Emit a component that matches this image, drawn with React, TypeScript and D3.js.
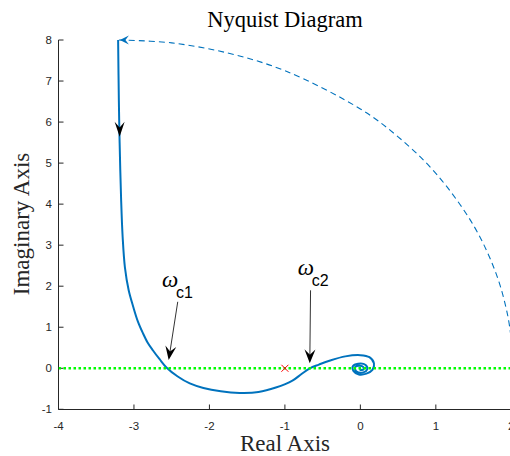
import React from "react";
import * as d3 from "d3";

// ---- data ----
const xTicks = [-4, -3, -2, -1, 0, 1, 2];
const yTicks = [-1, 0, 1, 2, 3, 4, 5, 6, 7, 8];

// Nyquist curve (positive frequencies)
const nyqRe = [
  -3.21, -3.2, -3.19, -3.17, -3.15, -3.12, -3.07, -3.01, -2.95, -2.88, -2.82, -2.75,
  -2.66, -2.57, -2.42, -2.26, -2.08, -1.85, -1.6, -1.35, -1.12, -0.9, -0.78, -0.67,
  -0.55, -0.4, -0.2, 0.0, 0.12, 0.18, 0.16, 0.08, -0.02, -0.09, -0.1, -0.03, 0.07,
  0.09, 0.04, -0.05, -0.07, -0.02, 0.04, 0.04, 0.0, 0.0,
];
const nyqIm = [
  8.0, 6.5, 5.5, 4.1, 3.2, 2.46, 1.9, 1.5, 1.15, 0.85, 0.63, 0.44,
  0.22, 0.02, -0.2, -0.37, -0.48, -0.56, -0.6, -0.58, -0.47, -0.3, -0.14, 0.0,
  0.09, 0.19, 0.29, 0.32, 0.27, 0.12, -0.04, -0.13, -0.15, -0.07, 0.05, 0.11, 0.08,
  -0.03, -0.1, -0.08, 0.02, 0.06, 0.03, -0.03, -0.04, 0.0,
];

// dashed closing arc (infinite-radius contour)
const arcRe = [-3.2, -2.5, -1.73, -1.0, 0.0, 0.5, 1.0, 1.5, 1.8, 1.95, 2.0];
const arcIm = [8.0, 7.93, 7.67, 7.25, 6.32, 5.64, 4.75, 3.48, 2.3, 1.31, 0.7];

// critical point
const critical = [-1, 0];

// annotations: label, arrow start, arrow tip (data coords)
const annLabels = ["c1", "c2"];
const annFrom = [
  [-2.42, 1.62],
  [-0.66, 1.9],
];
const annTo = [
  [-2.54, 0.2],
  [-0.67, 0.12],
];
const annTextPos = [
  [-2.63, 1.98],
  [-0.83, 2.27],
];

// direction arrow on the curve
const dirArrowTip = [-3.19, 5.64];

const W = 510;
const H = 456;
const blue = "#0072BD";
const axisCol = "#262626";

const x = d3.scaleLinear().domain([-4, 2]).range([58.5, 511.3]);
const y = d3.scaleLinear().domain([-1, 8]).range([409.3, 40]);

function headPath(tx: number, ty: number, ang: number, len: number, hw: number) {
  const dx = Math.cos(ang);
  const dy = Math.sin(ang);
  const px = -dy;
  const py = dx;
  const bx = tx - len * dx;
  const by = ty - len * dy;
  const nx = tx - len * 0.62 * dx;
  const ny = ty - len * 0.62 * dy;
  return `M${tx},${ty}L${bx + hw * px},${by + hw * py}L${nx},${ny}L${bx - hw * px},${by - hw * py}Z`;
}

export default function App() {
  const line = d3
    .line<number>()
    .x((i) => x(nyqRe[i]))
    .y((i) => y(nyqIm[i]))
    .curve(d3.curveCatmullRom.alpha(0.5));
  const curvePath = line(d3.range(nyqRe.length)) || "";

  const arcLine = d3
    .line<number>()
    .x((i) => x(arcRe[i]))
    .y((i) => y(arcIm[i]))
    .curve(d3.curveCatmullRom.alpha(0.5));
  const arcPath = arcLine(d3.range(arcRe.length)) || "";

  const cx = x(critical[0]);
  const cy = y(critical[1]);

  return (
    <svg
      width={W}
      height={H}
      style={{ position: "fixed", left: 0, top: 0, background: "#fff" }}
    >
      <defs>
        <clipPath id="plotclip">
          <rect x={58.5} y={38} width={452} height={372} />
        </clipPath>
      </defs>

      {/* title */}
      <text
        x={285}
        y={27}
        textAnchor="middle"
        fontFamily="Liberation Serif"
        fontSize={22.5}
        fill="#000"
      >
        Nyquist Diagram
      </text>

      {/* axes */}
      <g stroke={axisCol} strokeWidth={1} fill="none">
        <line x1={58.5} y1={40} x2={58.5} y2={409.5} />
        <line x1={58.5} y1={409.5} x2={511} y2={409.5} />
        {xTicks.map((t) => (
          <line key={"xt" + t} x1={x(t)} x2={x(t)} y1={409.5} y2={404.5} />
        ))}
        {yTicks.map((t) => (
          <line key={"yt" + t} x1={58.5} x2={63.5} y1={y(t)} y2={y(t)} />
        ))}
      </g>
      <g fontFamily="Liberation Sans, Arial" fontSize={11.5} fill={axisCol}>
        {xTicks.map((t) => (
          <text key={"xl" + t} x={x(t)} y={430} textAnchor="middle">
            {t}
          </text>
        ))}
        {yTicks.map((t) => (
          <text key={"yl" + t} x={52} y={y(t) + 4} textAnchor="end">
            {t}
          </text>
        ))}
      </g>
      <text
        x={285}
        y={451}
        textAnchor="middle"
        fontFamily="Liberation Serif"
        fontSize={23}
        fill={axisCol}
      >
        Real Axis
      </text>
      <text
        transform="translate(29,224) rotate(-90)"
        textAnchor="middle"
        fontFamily="Liberation Serif"
        fontSize={23}
        fill={axisCol}
      >
        Imaginary Axis
      </text>

      <g clipPath="url(#plotclip)">
        {/* dashed arc */}
        <path d={arcPath} fill="none" stroke={blue} strokeWidth={1.1} strokeDasharray="6,4" />
        {/* Nyquist curve */}
        <path d={curvePath} fill="none" stroke={blue} strokeWidth={2} strokeLinejoin="round" />
        {/* green real axis line */}
        <line
          x1={x(-4)}
          x2={x(2)}
          y1={y(0)}
          y2={y(0)}
          stroke="#00FF00"
          strokeWidth={2.5}
          strokeDasharray="2.5,2.5"
        />
        {/* critical point */}
        <g stroke="#FF0000" strokeWidth={1}>
          <line x1={cx - 3.5} y1={cy - 3.5} x2={cx + 3.5} y2={cy + 3.5} />
          <line x1={cx - 3.5} y1={cy + 3.5} x2={cx + 3.5} y2={cy - 3.5} />
        </g>
      </g>

      {/* blue arrowhead at arc end */}
      <path d={headPath(x(arcRe[0]) + 1, y(arcIm[0]), Math.PI, 9, 4.5)} fill={blue} />
      {/* direction arrow on curve */}
      <path
        d={headPath(x(dirArrowTip[0]), y(dirArrowTip[1]), Math.PI / 2, 15, 5)}
        fill="#000"
      />

      {/* annotations */}
      {annLabels.map((lab, i) => {
        const x1 = x(annFrom[i][0]);
        const y1 = y(annFrom[i][1]);
        const x2 = x(annTo[i][0]);
        const y2 = y(annTo[i][1]);
        const ang = Math.atan2(y2 - y1, x2 - x1);
        const tx = x(annTextPos[i][0]);
        const ty = y(annTextPos[i][1]);
        return (
          <g key={lab}>
            <line x1={x1} y1={y1} x2={x2 - 8 * Math.cos(ang)} y2={y2 - 8 * Math.sin(ang)} stroke="#333" strokeWidth={1} />
            <path d={headPath(x2, y2, ang, 14, 5.5)} fill="#000" />
            <text x={tx} y={ty} fontFamily="Liberation Serif" fontStyle="italic" fontSize={23} fill="#000">
              ω
            </text>
            <text x={tx + 14} y={ty + 11} fontFamily="Liberation Sans, Arial" fontSize={16} fill="#000">
              {lab}
            </text>
          </g>
        );
      })}
    </svg>
  );
}
